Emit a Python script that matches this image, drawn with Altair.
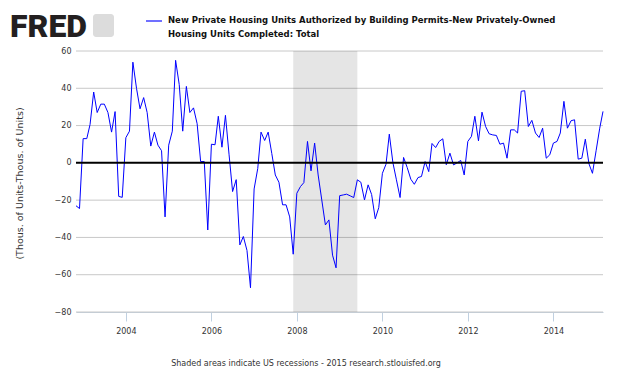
import altair as alt
import pandas as pd

# Monthly values, Nov 2002 .. Mar 2015 (thousands of units)
start_month = "2002-11-01"
values = [
    -23, -24.5, 13, 13, 20.5, 38, 27, 31.5, 31.5, 27, 16.5, 27.5, -18, -18.5,
    13.5, 17, 54, 40, 29, 35, 27, 9, 16.5, 9.5, 6.5, -29, 9.5, 17,
    55, 42, 17, 41, 27, 29.5, 21, 0.7, 0.7, -36, 10, 9.7, 25, 8.4, 25.5, 4.3,
    -15.4, -9, -44, -39.5, -47, -67, -14, -3, 16.5, 12, 16.5, 5, -6.5, -10.4,
    -22.5, -22.5, -29, -49, -16.3, -12.7, -10.6, 11.5, -4.3, 10.6, -6.5, -19.9,
    -33.3, -30.6, -49.5, -56.3, -17.6, -17.2, -16.8, -17.7, -18.6, -9.1, -10.4,
    -19.9, -11.8, -17, -30, -24, -5.6, -0.7, 15.4, 0, -9.1, -18.6, 2.9, -2.5,
    -8.8, -11.5, -7.9, -7.3, 0.7, -4.7, 10.4, 8.2, 11.5, 12.9, -1, 5.2, -1.1,
    0, 1.3, -6.5, 11.5, 14.2, 25, 11.8, 27.2, 19.5, 15.6, 15, 14.7, 10, 10.6,
    2.5, 17.7, 17.7, 16, 38.4, 38.7, 19.5, 22.8, 16, 13.6, 18.6, 2.5, 4.3,
    10.6, 11.5, 16, 33, 18.6, 22.6, 23.1, 2, 2.5, 12.7, -0.5, -5.6, 6.5, 18.6,
    27.6,
]
recession_start = ["2007-12-01"]
recession_end = ["2009-06-01"]
y_ticks = [-80, -60, -40, -20, 0, 20, 40, 60]
x_tick_years = [2004, 2006, 2008, 2010, 2012, 2014]

series_title_1 = "New Private Housing Units Authorized by Building Permits-New Privately-Owned"
series_title_2 = "Housing Units Completed: Total"
y_title = "(Thous. of Units-Thous. of Units)"
footer = "Shaded areas indicate US recessions - 2015 research.stlouisfed.org"

dates = pd.date_range(start_month, periods=len(values), freq="MS")
df = pd.DataFrame({"date": dates.strftime("%Y-%m-%d"), "value": values})
rec_df = pd.DataFrame({"start": recession_start, "end": recession_end})
grid_df = pd.DataFrame({"g": [t for t in y_ticks if t != 0]})

x_scale = alt.Scale(domain=[df["date"].iloc[0], df["date"].iloc[-1]], nice=False)
y_scale = alt.Scale(domain=[-80, 60], nice=False)

FONT = "DejaVu Sans"

x_axis = alt.Axis(
    values=[alt.DateTime(year=y, month=1, date=1) for y in x_tick_years],
    format="%Y",
    grid=False,
    domainColor="#C0D0E0",
    tickColor="#C0D0E0",
    tickSize=9,
    labelFont=FONT,
    labelFontSize=8,
    labelColor="#333333",
    labelPadding=6,
    labelOverlap=False,
    title=None,
)

y_axis = alt.Axis(
    values=y_ticks,
    grid=False,
    domain=False,
    ticks=False,
    labelFont=FONT,
    labelFontSize=8,
    labelColor="#333333",
    labelPadding=5,
    labelOverlap=False,
    title=y_title,
    titleFont=FONT,
    titleFontSize=9.5,
    titleFontWeight="normal",
    titleColor="#333333",
    titleX=-52,
    titleY=132,
)

grid = alt.Chart(grid_df).mark_rule(color="#C8C8C8", strokeWidth=1).encode(
    y=alt.Y("g:Q", scale=y_scale, axis=y_axis, title=y_title)
)

rec = alt.Chart(rec_df).mark_rect(color="#000000", opacity=0.1).encode(
    x=alt.X("start:T", scale=x_scale, axis=x_axis, title=None),
    x2="end:T",
)

line = alt.Chart(df).mark_line(color="#0000FF", strokeWidth=1).encode(
    x=alt.X("date:T", scale=x_scale, axis=x_axis, title=None),
    y=alt.Y("value:Q", scale=y_scale, axis=y_axis, title=y_title),
)

zero = alt.Chart(pd.DataFrame({"z": [0]})).mark_rule(color="black", strokeWidth=2).encode(
    y=alt.Y("z:Q", scale=y_scale, axis=y_axis, title=y_title)
)

legend_sample = alt.Chart(pd.DataFrame({"a": [0]})).mark_rule(
    color="#7070FF", strokeWidth=2
).encode(x=alt.value(70), x2=alt.value(86), y=alt.value(-30))

head1 = alt.Chart(pd.DataFrame({"t": [series_title_1]})).mark_text(
    align="left", baseline="middle", font=FONT, fontSize=8.5, fontWeight="bold", color="#111111"
).encode(x=alt.value(92), y=alt.value(-31), text="t:N")

head2 = alt.Chart(pd.DataFrame({"t": [series_title_2]})).mark_text(
    align="left", baseline="middle", font=FONT, fontSize=8.5, fontWeight="bold", color="#111111"
).encode(x=alt.value(92), y=alt.value(-17.5), text="t:N")

logo = alt.Chart(pd.DataFrame({"t": ["FRED"]})).mark_text(
    align="left", baseline="alphabetic", font="Roboto", fontSize=32, fontWeight=900, color="#231F20"
).encode(x=alt.value(-66), y=alt.value(-14), text="t:N")

icon = alt.Chart(pd.DataFrame({"a": [0]})).mark_rect(
    color="#DCDCDC", cornerRadius=3
).encode(x=alt.value(17), x2=alt.value(38), y=alt.value(-37), y2=alt.value(-14))

foot = alt.Chart(pd.DataFrame({"t": [footer]})).mark_text(
    align="center", baseline="middle", font=FONT, fontSize=8, color="#333333"
).encode(x=alt.value(230), y=alt.value(313), text="t:N")

chart = alt.layer(grid, rec, line, zero, legend_sample, head1, head2, logo, icon, foot).properties(
    width=527,
    height=261,
    padding={"left": 68, "top": 43, "right": 19, "bottom": 58},
    autosize="none",
).configure_view(stroke=None)

chart.save("out.html", embed_options={"renderer": "svg", "actions": False})
